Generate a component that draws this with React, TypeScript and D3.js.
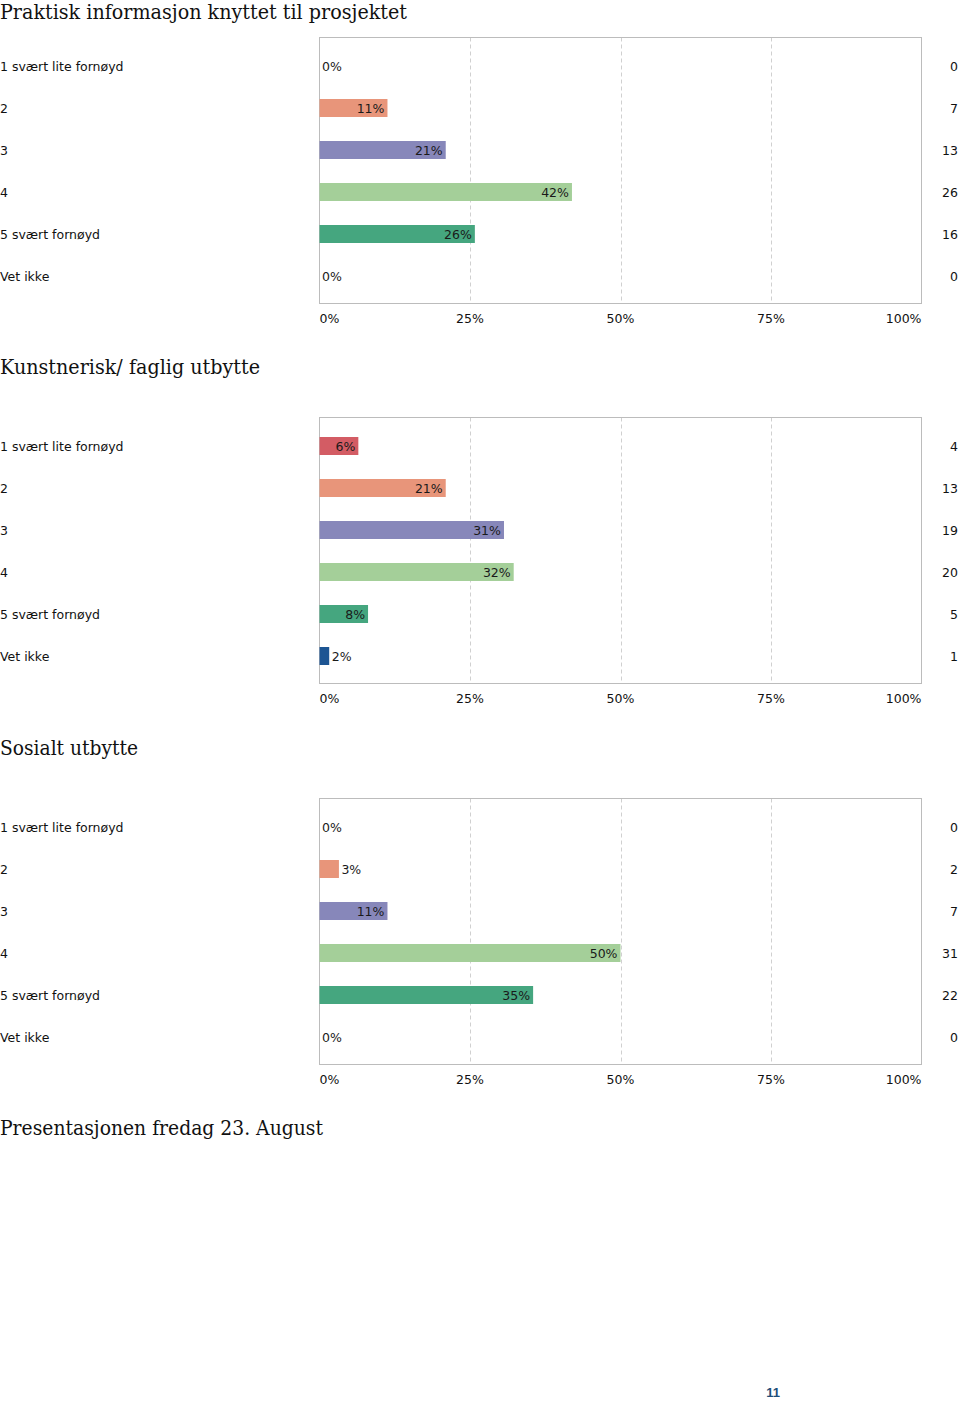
import React from "react";
import * as d3 from "d3";

const categories = ["1 svært lite fornøyd", "2", "3", "4", "5 svært fornøyd", "Vet ikke"];
const titles = [
  "Praktisk informasjon knyttet til prosjektet",
  "Kunstnerisk/ faglig utbytte",
  "Sosialt utbytte",
];
const footerTitle = "Presentasjonen fredag 23. August";
const countsPraktisk = [0, 7, 13, 26, 16, 0];
const countsKunst = [4, 13, 19, 20, 5, 1];
const countsSosialt = [0, 2, 7, 31, 22, 0];
const tickValues = [0, 25, 50, 75, 100];
const barColors = ["#D35C64", "#E8957A", "#8787BA", "#A4CF99", "#45A67F", "#1D5593"];
const pageNumber = "11";

const W = 960;
const H = 1403;
const plotLeft = 319.5;
const plotRight = 921.5;
const sansFont = "'DejaVu Sans', Verdana, sans-serif";
const serifFont = "'DejaVu Serif', 'Liberation Serif', serif";

function Title({ y, text, len }: { y: number; text: string; len: number }) {
  return (
    <text x={0} y={y} fontFamily={serifFont} fontSize={19.5} fill="#111" textLength={len} lengthAdjust="spacingAndGlyphs">
      {text}
    </text>
  );
}

function Chart({ top, counts }: { top: number; counts: number[] }) {
  const total = d3.sum(counts);
  const x = d3.scaleLinear().domain([0, 100]).range([plotLeft, plotRight]);
  const boxTop = top + 37.5;
  const boxBottom = top + 303.5;
  const bh = 18;
  return (
    <g>
      {tickValues.slice(1, 4).map((t) => (
        <line key={t} x1={Math.round(x(t)) + 0.5} x2={Math.round(x(t)) + 0.5} y1={boxTop} y2={boxBottom} stroke="#d0d0d0" strokeDasharray="4,3" />
      ))}
      <rect x={plotLeft} y={boxTop} width={plotRight - plotLeft} height={boxBottom - boxTop} fill="none" stroke="#bcbcbc" strokeWidth={1} />
      {categories.map((c, i) => {
        const cy = top + 66 + i * 42;
        const pct = (counts[i] / total) * 100;
        const label = Math.round(pct) + "%";
        const w = x(pct) - x(0);
        const labelW = label.length * 7.6 + 6;
        const inside = w > labelW;
        return (
          <g key={c}>
            <text x={0} y={cy + 4.5} fontFamily={sansFont} fontSize={12.5} fill="#111">{c}</text>
            {w > 0 && <rect x={plotLeft} y={cy - bh / 2} width={w} height={bh} fill={barColors[i]} />}
            <text
              x={inside ? plotLeft + w - 3 : plotLeft + w + 2.5}
              y={cy + 4.5}
              textAnchor={inside ? "end" : "start"}
              fontFamily={sansFont}
              fontSize={12.5}
              fill="#1a1a1a"
            >
              {label}
            </text>
            <text x={958} y={cy + 4.5} textAnchor="end" fontFamily={sansFont} fontSize={12.5} fill="#111">{counts[i]}</text>
          </g>
        );
      })}
      {tickValues.map((t, i) => (
        <text
          key={t}
          x={i === 0 ? plotLeft : i === tickValues.length - 1 ? plotRight : x(t)}
          y={top + 323}
          textAnchor={i === 0 ? "start" : i === tickValues.length - 1 ? "end" : "middle"}
          fontFamily={sansFont}
          fontSize={12.5}
          fill="#111"
        >
          {t + "%"}
        </text>
      ))}
    </g>
  );
}

export default function App() {
  React.useEffect(() => {
    document.body.style.margin = "0";
  }, []);
  return (
    <svg width={W} height={H} style={{ display: "block", position: "absolute", left: 0, top: 0, background: "#fff" }}>
      <rect width={W} height={H} fill="#fff" />
      <Title y={19} text={titles[0]} len={407} />
      <Chart top={0} counts={countsPraktisk} />
      <Title y={374} text={titles[1]} len={260} />
      <Chart top={380} counts={countsKunst} />
      <Title y={755} text={titles[2]} len={138} />
      <Chart top={761} counts={countsSosialt} />
      <Title y={1135} text={footerTitle} len={323} />
      <text x={773} y={1397} textAnchor="middle" fontFamily="'Liberation Sans', Arial, sans-serif" fontWeight="bold" fontSize={13} fill="#1F4E79">
        {pageNumber}
      </text>
    </svg>
  );
}
